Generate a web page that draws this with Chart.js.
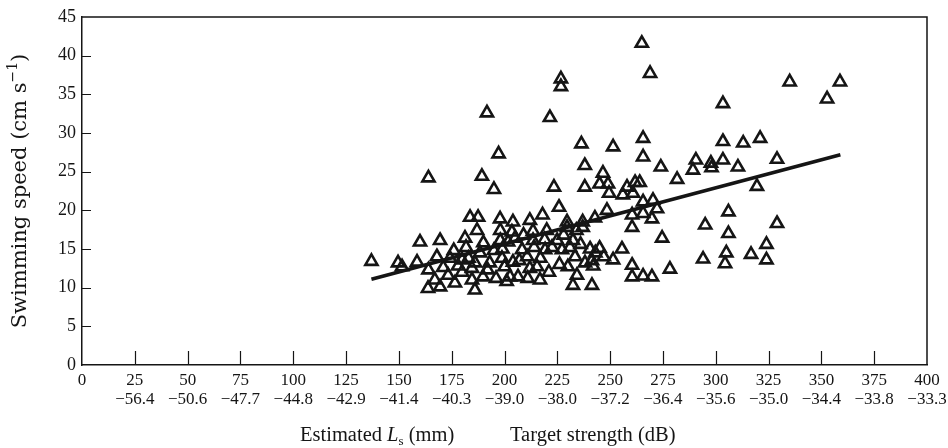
<!DOCTYPE html>
<html>
<head>
<meta charset="utf-8">
<script src="https://cdn.jsdelivr.net/npm/chart.js@4/dist/chart.umd.min.js"></script>
<style>
  html, body { margin: 0; padding: 0; background: #fff; }
  canvas { display: block; }
</style>
</head>
<body>
<canvas id="speedChart" width="948" height="448"></canvas>
<script>
// Estimated length (mm) and swimming speed (cm/s) for each tracked fish
const fishLength = [
  137, 149.6, 151.5, 158.6, 160, 164, 169.5, 164, 163.8, 167,
  197.2, 189.3, 195, 223.4, 225.8, 183.7, 187.5, 197.9, 204, 212,
  218, 187, 198, 203.5, 213.5, 220, 229.6, 234, 181.3, 181.8,
  188.4, 179.9, 174.2, 168, 173.3, 179.9, 184.6, 189.8, 169.5, 184.6,
  186, 193, 198.8, 200, 204, 202.6, 206.4, 198, 201.7, 205,
  208.3, 210.7, 213.5, 212, 216.8, 215.4, 219.2, 222.5, 224.9, 227.2,
  230, 232.4, 233.4, 234.3, 232.4, 238.1, 229.6, 237,
  226.7, 226.7, 191.7, 221.5, 236.4,
  265, 268.9, 303.4, 251.4, 265.6, 303.4, 265.6, 274, 281.7, 290.6,
  289.2, 297.7, 298, 303.4, 246.6, 245, 249, 258, 261.8, 264,
  238, 238,
  249.5, 256, 260.8, 265.6, 270.3, 248.5, 272.2, 260.4, 265.6, 269.8,
  260.4, 242.8, 237, 274.6, 295, 240.5, 245, 255.6, 241.4, 242,
  251.4, 260.4, 278.3, 294, 260.4, 265.6, 269.8, 241.4,
  335, 358.8, 352.7, 313, 321, 310.5, 329, 319.5, 306, 329,
  306, 324, 305, 316.7, 324, 304.4,
  176, 178, 183, 186, 190, 192, 195, 196, 199, 201,
  207, 209, 211, 214, 217, 219, 221, 226, 228, 231,
  236, 243, 247, 171, 176.5
];
const fishSpeed = [
  13.4, 13.2, 12.7, 13.3, 15.9, 24.2, 16.1, 12.3, 9.9, 11,
  27.3, 24.4, 22.7, 23, 20.4, 19.1, 19.1, 18.9, 18.5, 18.7,
  19.4, 17.4, 17.4, 17.2, 17.3, 17.4, 18.5, 17.4, 16.4, 15.2,
  14.5, 13.6, 13.8, 14, 11.6, 12, 12.5, 11.4, 10.1, 11,
  9.7, 13.2, 13.8, 12.7, 13.3, 11.4, 11.4, 16.1, 15.9, 16.4,
  14.9, 14, 16.1, 12.5, 11, 12.7, 14.9, 15.2, 16.1, 14.9,
  12.7, 16.1, 14, 11.6, 10.3, 13.2, 17.8, 18.5,
  37, 36, 32.6, 32, 28.6,
  41.6, 37.7, 33.8, 28.2, 29.3, 28.9, 26.9, 25.6, 24, 26.5,
  25.2, 26.1, 25.5, 26.5, 24.8, 23.4, 23.4, 23, 23.6, 23.6,
  25.8, 23,
  22.2, 22, 22.2, 21.1, 21.3, 20, 20.2, 19.4, 19.6, 18.9,
  17.8, 19, 17.8, 16.4, 18.1, 15, 15.1, 15, 13.5, 12.8,
  13.6, 12.9, 12.4, 13.7, 11.4, 11.5, 11.4, 10.3,
  36.6, 36.6, 34.4, 28.7, 29.3, 25.6, 26.6, 23.1, 19.8, 18.3,
  17, 15.6, 14.5, 14.3, 13.6, 13.1,
  14.8, 12.8, 13.8, 13.2, 15.8, 12.3, 14.8, 11.2, 15, 10.8,
  13.5, 16.8, 11.2, 15.2, 13.8, 16.2, 12, 13, 16.8, 15.2,
  15.6, 14.5, 14, 12.6, 10.6
];

// Least-squares line end points
const fitLength = [137, 359];
const fitSpeed = [11.1, 27.2];

// Bottom axis: length ticks (mm) with the matching target strength (dB)
const lengthTicks = [0, 25, 50, 75, 100, 125, 150, 175, 200, 225, 250, 275, 300, 325, 350, 375, 400];
const strengthTicks = ['', '\u221256.4', '\u221250.6', '\u221247.7', '\u221244.8', '\u221242.9', '\u221241.4',
  '\u221240.3', '\u221239.0', '\u221238.0', '\u221237.2', '\u221236.4', '\u221235.6', '\u221235.0',
  '\u221234.4', '\u221233.8', '\u221233.3'];
const speedTicks = [0, 5, 10, 15, 20, 25, 30, 35, 40, 45];

const SERIF = '"Liberation Serif", "Times New Roman", serif';
const WIDE_SERIF = '"DejaVu Serif", "Liberation Serif", serif';
const INK = '#151515';

const points = fishLength.map((x, i) => ({ x, y: fishSpeed[i] }));
const fitLine = fitLength.map((x, i) => ({ x, y: fitSpeed[i] }));

// Frame on top/right plus short inward tick marks
const frameAndTicks = {
  id: 'frameAndTicks',
  beforeDatasetsDraw(chart) {
    const { ctx, chartArea: a, scales: { x, y } } = chart;
    ctx.save();
    ctx.strokeStyle = INK;
    ctx.lineWidth = 1.5;
    ctx.beginPath();
    ctx.moveTo(a.left, a.top);
    ctx.lineTo(a.right, a.top);
    ctx.lineTo(a.right, a.bottom);
    ctx.stroke();
    ctx.lineWidth = 1.2;
    ctx.beginPath();
    lengthTicks.slice(1, -1).forEach(v => {
      const px = Math.round(x.getPixelForValue(v)) + 0.5;
      ctx.moveTo(px, a.bottom);
      ctx.lineTo(px, a.bottom - 14);
    });
    speedTicks.slice(1, -1).forEach(v => {
      const py = Math.round(y.getPixelForValue(v)) + 0.5;
      ctx.moveTo(a.left, py);
      ctx.lineTo(a.left + 9, py);
    });
    ctx.stroke();
    ctx.restore();
  },
  afterDraw(chart) {
    const { ctx, chartArea: a } = chart;
    ctx.save();
    ctx.fillStyle = INK;
    ctx.textBaseline = 'alphabetic';
    ctx.textAlign = 'left';

    // Bottom titles
    let x = 300;
    const base = 441;
    ctx.font = '20.5px ' + SERIF;
    ctx.fillText('Estimated ', x, base);
    x += ctx.measureText('Estimated ').width;
    ctx.font = 'italic 20.5px ' + SERIF;
    ctx.fillText('L', x, base);
    x += ctx.measureText('L').width;
    ctx.font = '13px ' + SERIF;
    ctx.fillText('s', x, base + 4);
    x += ctx.measureText('s').width;
    ctx.font = '20.5px ' + SERIF;
    ctx.fillText(' (mm)', x, base);

    ctx.fillText('Target strength (dB)', 510, base);

    // Left title, rotated
    const parts = [
      { t: 'Swimming speed (cm s', f: '21px ' + WIDE_SERIF, dy: 0 },
      { t: '\u22121', f: '14px ' + WIDE_SERIF, dy: -9 },
      { t: ')', f: '21px ' + WIDE_SERIF, dy: 0 }
    ];
    let total = 0;
    parts.forEach(p => { ctx.font = p.f; p.w = ctx.measureText(p.t).width; total += p.w; });
    ctx.translate(26, (a.top + a.bottom) / 2);
    ctx.rotate(-Math.PI / 2);
    let cx = -total / 2;
    parts.forEach(p => { ctx.font = p.f; ctx.fillText(p.t, cx, p.dy); cx += p.w; });
    ctx.restore();
  }
};

new Chart(document.getElementById('speedChart'), {
  type: 'scatter',
  data: {
    datasets: [
      {
        label: 'Fit',
        data: fitLine,
        showLine: true,
        borderColor: INK,
        borderWidth: 3.6,
        pointRadius: 0,
        order: 0
      },
      {
        label: 'Fish',
        data: points,
        pointStyle: 'triangle',
        pointRadius: 7,
        borderWidth: 2.6,
        borderColor: INK,
        backgroundColor: 'rgba(0,0,0,0)',
        order: 1
      }
    ]
  },
  options: {
    responsive: false,
    animation: false,
    layout: { padding: { top: 17, right: 21, left: 0, bottom: 0 } },
    plugins: { legend: { display: false }, tooltip: { enabled: false } },
    scales: {
      x: {
        type: 'linear',
        min: 0,
        max: 400,
        afterFit(s) { s.height = 83; s.paddingLeft = 0; s.paddingRight = 0; },
        afterBuildTicks(s) { s.ticks = lengthTicks.map(v => ({ value: v })); },
        grid: { display: false, drawTicks: false },
        border: { display: true, color: INK, width: 1.5 },
        ticks: {
          padding: 6,
          color: INK,
          autoSkip: false,
          maxRotation: 0,
          font: { family: SERIF, size: 17, lineHeight: 1.1 },
          callback(v) {
            const i = lengthTicks.indexOf(v);
            return [String(v), strengthTicks[i] || ''];
          }
        }
      },
      y: {
        type: 'linear',
        min: 0,
        max: 45,
        afterFit(s) { s.width = 82; s.paddingTop = 0; s.paddingBottom = 0; },
        afterBuildTicks(s) { s.ticks = speedTicks.map(v => ({ value: v })); },
        grid: { display: false, drawTicks: false },
        border: { display: true, color: INK, width: 1.5 },
        ticks: {
          padding: 6,
          color: INK,
          font: { family: SERIF, size: 18 }
        }
      }
    }
  },
  plugins: [frameAndTicks]
});
</script>
</body>
</html>
